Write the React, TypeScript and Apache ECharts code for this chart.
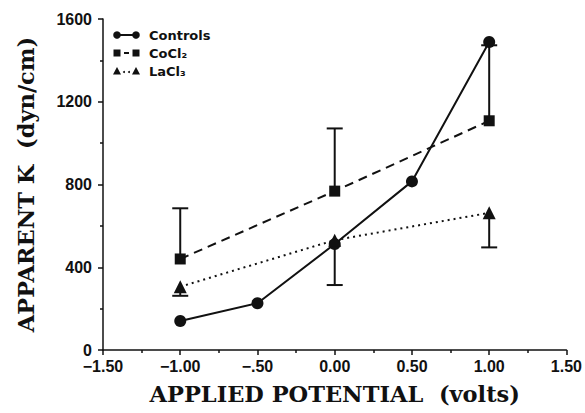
import React, { useEffect, useRef } from "react";
import * as echarts from "echarts";

const xTicks = [-1.5, -1.0, -0.5, 0.0, 0.5, 1.0, 1.5];
const xTickLabels = ["−1.50", "−1.00", "−.50", "0.00", "0.50", "1.00", "1.50"];

const controlsX = [-1.0, -0.5, 0.0, 0.5, 1.0];
const controlsY = [140, 226, 512, 815, 1489];

const cocl2X = [-1.0, 0.0, 1.0];
const cocl2Y = [440, 768, 1108];
const cocl2Upper = [685, 1071, 1473];

const lacl3X = [-1.0, 0.0, 1.0];
const lacl3Y = [306, 531, 663];
const lacl3Lower = [262, 314, 496];

const legendNames = ["Controls", "CoCl₂", "LaCl₃"];

const INK = "#111";

function errorSeries(xs: number[], ys: number[], ends: number[]) {
  const data = xs.map((x, i) => [x, ys[i], ends[i]]);
  return {
    type: "custom",
    z: 1,
    silent: true,
    data,
    renderItem: (params: any, api: any) => {
      const x = api.value(0);
      const p0 = api.coord([x, api.value(1)]);
      const p1 = api.coord([x, api.value(2)]);
      const half = 8;
      return {
        type: "group",
        children: [
          {
            type: "line",
            shape: { x1: p0[0], y1: p0[1], x2: p1[0], y2: p1[1] },
            style: { stroke: INK, lineWidth: 2 },
          },
          {
            type: "line",
            shape: { x1: p1[0] - half, y1: p1[1], x2: p1[0] + half, y2: p1[1] },
            style: { stroke: INK, lineWidth: 2 },
          },
        ],
      };
    },
  };
}

function legendGraphic() {
  const x1 = 117;
  const x2 = 136;
  const rows = [35, 53, 71];
  const tx = 149;
  const els: any[] = [];
  els.push({ type: "line", shape: { x1, y1: rows[0], x2, y2: rows[0] }, style: { stroke: INK, lineWidth: 2 } });
  els.push({ type: "circle", shape: { cx: x1, cy: rows[0], r: 3.8 }, style: { fill: INK } });
  els.push({ type: "circle", shape: { cx: x2, cy: rows[0], r: 3.8 }, style: { fill: INK } });
  els.push({ type: "rect", shape: { x: x1 - 3.5, y: rows[1] - 3.5, width: 7, height: 7 }, style: { fill: INK } });
  els.push({ type: "rect", shape: { x: x2 - 3.5, y: rows[1] - 3.5, width: 7, height: 7 }, style: { fill: INK } });
  els.push({ type: "line", shape: { x1: 124, y1: rows[1], x2: 129, y2: rows[1] }, style: { stroke: INK, lineWidth: 2 } });
  const tri = (cx: number, cy: number) => ({
    type: "polygon",
    shape: { points: [[cx, cy - 4], [cx - 4, cy + 3.5], [cx + 4, cy + 3.5]] },
    style: { fill: INK },
  });
  els.push(tri(x1, rows[2]));
  els.push(tri(x2, rows[2]));
  els.push({ type: "circle", shape: { cx: 124, cy: rows[2] + 1, r: 1 }, style: { fill: INK } });
  els.push({ type: "circle", shape: { cx: 129, cy: rows[2] + 1, r: 1 }, style: { fill: INK } });
  legendNames.forEach((n, i) => {
    els.push({
      type: "text",
      x: tx,
      y: rows[i],
      style: {
        text: n,
        fill: INK,
        font: "bold 13px 'DejaVu Sans'",
        verticalAlign: "middle",
        align: "left",
      },
    });
  });
  return els;
}

export default function App() {
  const ref = useRef<HTMLDivElement>(null);
  useEffect(() => {
    if (!ref.current) return;
    document.body.style.margin = "0";
    const chart = echarts.init(ref.current, null, { renderer: "svg" });
    chart.setOption({
      animation: false,
      backgroundColor: "#fff",
      grid: { left: 103, right: 18, top: 19, bottom: 63, containLabel: false },
      xAxis: {
        type: "value",
        min: -1.5,
        max: 1.5,
        interval: 0.5,
        name: "APPLIED POTENTIAL  (volts)",
        nameLocation: "middle",
        nameGap: 32,
        nameTextStyle: { fontFamily: "'DejaVu Serif'", fontWeight: "bold", fontSize: 22.5, color: INK },
        axisLine: { show: true, onZero: false, lineStyle: { color: INK, width: 1.5 } },
        axisTick: { show: true, length: 5, lineStyle: { color: INK, width: 1.5 } },
        minorTick: { show: true, splitNumber: 2, length: 3, lineStyle: { color: INK, width: 1.5 } },
        splitLine: { show: false },
        axisLabel: {
          margin: 8,
          fontFamily: "'Liberation Sans'",
          fontWeight: "bold",
          fontSize: 16,
          color: INK,
          formatter: (v: number) => {
            const i = xTicks.findIndex((t) => Math.abs(t - v) < 1e-6);
            return i >= 0 ? xTickLabels[i] : "";
          },
        },
      },
      yAxis: {
        type: "value",
        min: 0,
        max: 1600,
        interval: 400,
        name: "APPARENT K  (dyn/cm)",
        nameLocation: "middle",
        nameGap: 66,
        nameTextStyle: { fontFamily: "'DejaVu Serif'", fontWeight: "bold", fontSize: 22.5, color: INK },
        axisLine: { show: true, onZero: false, lineStyle: { color: INK, width: 1.5 } },
        axisTick: { show: true, length: 5, lineStyle: { color: INK, width: 1.5 } },
        minorTick: { show: true, splitNumber: 2, length: 3, lineStyle: { color: INK, width: 1.5 } },
        splitLine: { show: false },
        axisLabel: {
          margin: 11,
          fontFamily: "'Liberation Sans'",
          fontWeight: "bold",
          fontSize: 16,
          color: INK,
          formatter: (v: number) => String(v),
        },
      },
      graphic: legendGraphic(),
      series: [
        errorSeries(cocl2X, cocl2Y, cocl2Upper),
        errorSeries(lacl3X, lacl3Y, lacl3Lower),
        {
          name: "Controls",
          type: "line",
          z: 3,
          data: controlsX.map((x, i) => [x, controlsY[i]]),
          symbol: "circle",
          symbolSize: 12,
          itemStyle: { color: INK },
          lineStyle: { color: INK, width: 2 },
        },
        {
          name: "CoCl2",
          type: "line",
          z: 3,
          data: cocl2X.map((x, i) => [x, cocl2Y[i]]),
          symbol: "rect",
          symbolSize: 11,
          itemStyle: { color: INK },
          lineStyle: { color: INK, width: 2, type: [9, 6] },
        },
        {
          name: "LaCl3",
          type: "line",
          z: 3,
          data: lacl3X.map((x, i) => [x, lacl3Y[i]]),
          symbol: "triangle",
          symbolSize: 13,
          itemStyle: { color: INK },
          lineStyle: { color: INK, width: 2, type: [2, 4] },
        },
      ],
    });
    return () => chart.dispose();
  }, []);
  return <div ref={ref} style={{ width: 585, height: 413 }} />;
}
